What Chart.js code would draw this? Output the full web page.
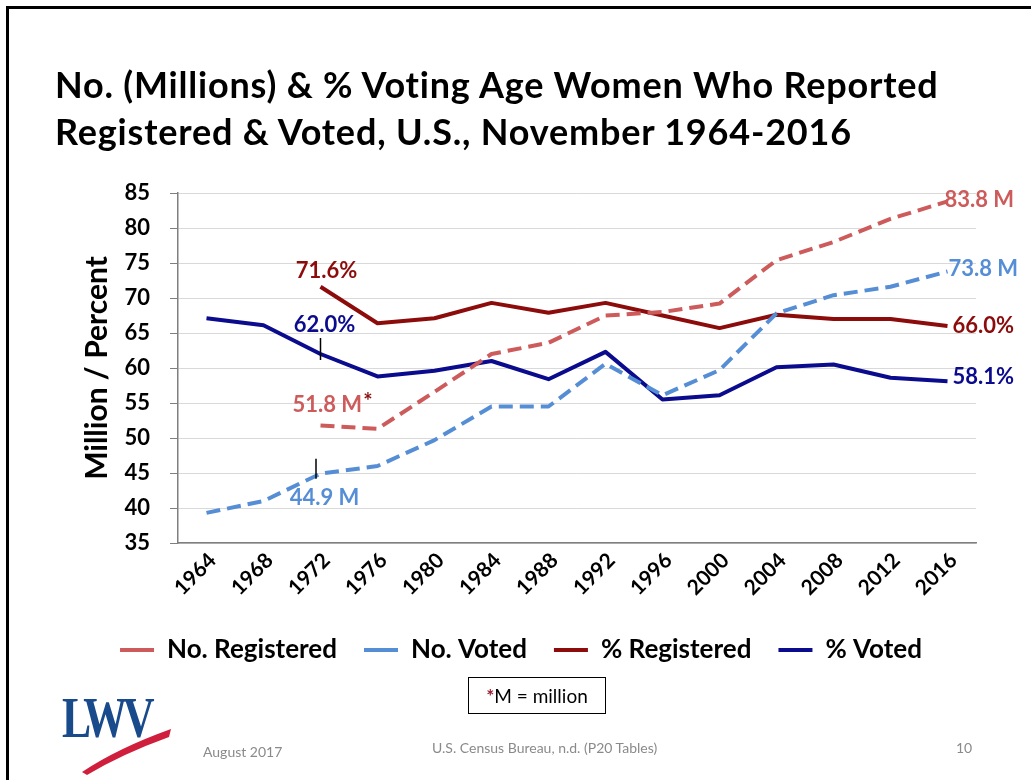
<!DOCTYPE html>
<html>
<head>
<meta charset="utf-8">
<title>Voting Age Women Registered &amp; Voted, 1964-2016</title>
<script src="https://cdn.jsdelivr.net/npm/chart.js@4.4.1/dist/chart.umd.min.js"></script>
<style>
  html, body { margin: 0; padding: 0; background: #fff; }
  body { width: 1031px; height: 780px; position: relative; overflow: hidden; font-family: Lato, "Liberation Sans", sans-serif; font-variant-ligatures: none; }
  .frame { position: absolute; left: 6px; top: 6px; width: 1100px; height: 900px; border: 3px solid #000; }
  #chart { position: absolute; left: 0; top: 0; }
  h1 { position: absolute; left: 55px; top: 61px; margin: 0; font-size: 36px; line-height: 46.5px; letter-spacing: 0.8px; font-weight: 700; color: #000; white-space: nowrap; }
  .note { position: absolute; left: 468px; top: 677px; width: 136px; height: 35px; border: 1.5px solid #000; font-size: 19px; line-height: 35px; text-align: center; color: #000; }
  .note span { color: #9b1b2e; font-weight: 700; }
  .foot { position: absolute; color: #8a8a8a; font-size: 14px; line-height: 16px; white-space: nowrap; }
  .logo { position: absolute; left: 62px; top: 690px; font-family: "Liberation Serif", serif; font-weight: 700; font-size: 56px; line-height: 56px; color: #184a8c; letter-spacing: -5px; transform: scaleX(0.78); transform-origin: left top; }
  .swoosh { position: absolute; left: 0; top: 0; }
</style>
</head>
<body>
<div class="frame"></div>
<canvas id="chart" width="1031" height="780"></canvas>
<h1>No. (Millions) &amp; % Voting Age Women Who Reported<br>Registered &amp; Voted, U.S., November 1964-2016</h1>
<div class="note"><span>*</span>M = million</div>
<div class="logo">LWV</div>
<svg class="swoosh" width="200" height="780" viewBox="0 0 200 780">
  <path d="M82 772 Q118 748 171 729 L169 737 Q122 754 87 775 Z" fill="#cf1f3c"/>
</svg>
<div class="foot" style="left:203px; top:744px;">August 2017</div>
<div class="foot" style="left:432px; top:740px;">U.S. Census Bureau, n.d. (P20 Tables)</div>
<div class="foot" style="left:956px; top:740px;">10</div>

<script>
// election years and series (millions of women / percent of voting age women)
const years = ['1964', '1968', '1972', '1976', '1980', '1984', '1988', '1992', '1996', '2000', '2004', '2008', '2012', '2016'];
const noRegistered = [null, null, 51.8, 51.3, 56.6, 62.0, 63.6, 67.5, 68.0, 69.2, 75.4, 78.0, 81.3, 83.8];
const noVoted = [39.3, 41.0, 44.9, 46.0, 49.7, 54.5, 54.5, 60.6, 56.1, 59.7, 67.8, 70.4, 71.6, 73.8];
const pctRegistered = [null, null, 71.6, 66.4, 67.1, 69.3, 67.9, 69.3, 67.5, 65.7, 67.6, 67.0, 67.0, 66.0];
const pctVoted = [67.1, 66.1, 62.0, 58.8, 59.6, 61.0, 58.4, 62.3, 55.5, 56.1, 60.1, 60.5, 58.6, 58.1];
const yTicks = [35, 40, 45, 50, 55, 60, 65, 70, 75, 80, 85];

const LIGHT_RED = '#cd5b5b';
const LIGHT_BLUE = '#568ed6';
const DARK_RED = '#8c0c0c';
const NAVY = '#0b0b8e';
const FONT = 'Lato, "Liberation Sans", sans-serif';

// callouts at the first and last election of each series
const callouts = [
  { ds: 2, i: 2, unit: '%', color: DARK_RED, dx: 6, dy: -16, align: 'center' },
  { ds: 3, i: 2, unit: '%', color: NAVY, dx: 4, dy: -29, align: 'center' },
  { ds: 0, i: 2, unit: ' M', star: true, color: LIGHT_RED, dx: -28, dy: -20, align: 'left' },
  { ds: 1, i: 2, unit: ' M', color: LIGHT_BLUE, dx: 4, dy: 24, align: 'center' },
  { ds: 0, i: 13, unit: ' M', color: LIGHT_RED, dx: -3, dy: -1, align: 'left' },
  { ds: 1, i: 13, unit: ' M', color: LIGHT_BLUE, dx: 1, dy: -2, align: 'left' },
  { ds: 2, i: 13, unit: '%', color: DARK_RED, dx: 5, dy: 0, align: 'left' },
  { ds: 3, i: 13, unit: '%', color: NAVY, dx: 5, dy: -4, align: 'left' }
];
// short leader ticks next to the 1972 callouts
const leaders = [
  { ds: 3, i: 2, dx: 0, from: -16, to: 6 },
  { ds: 1, i: 2, dx: -4.5, from: -15, to: 5 }
];

const calloutPlugin = {
  id: 'callouts',
  afterDatasetsDraw(chart) {
    const { ctx, scales: { x, y } } = chart;
    ctx.save();
    ctx.strokeStyle = '#000';
    ctx.lineWidth = 1.5;
    leaders.forEach(l => {
      const v = chart.data.datasets[l.ds].data[l.i];
      const px = x.getPixelForValue(l.i) + l.dx, py = y.getPixelForValue(v);
      ctx.beginPath();
      ctx.moveTo(px, py + l.from);
      ctx.lineTo(px, py + l.to);
      ctx.stroke();
    });
    ctx.font = `bold 22px ${FONT}`;
    ctx.textBaseline = 'middle';
    callouts.forEach(c => {
      const v = chart.data.datasets[c.ds].data[c.i];
      const px = x.getPixelForValue(c.i) + c.dx, py = y.getPixelForValue(v) + c.dy;
      const txt = v.toFixed(1) + c.unit;
      ctx.textAlign = c.align;
      ctx.fillStyle = c.color;
      ctx.fillText(txt, px, py);
      if (c.star) {
        const w = ctx.measureText(txt).width;
        ctx.textAlign = 'left';
        ctx.fillStyle = DARK_RED;
        ctx.fillText('*', px + w + 1, py - 3);
      }
    });
    ctx.restore();
  }
};

function line(label, data, color, dashed) {
  return {
    label, data,
    borderColor: color, backgroundColor: color,
    borderWidth: 4,
    borderDash: dashed ? [14, 7] : [],
    borderCapStyle: 'butt',
    borderJoinStyle: 'round',
    pointRadius: 0, pointHoverRadius: 0,
    pointStyle: 'line',
    spanGaps: false,
    tension: 0
  };
}

new Chart(document.getElementById('chart'), {
  type: 'line',
  data: {
    labels: years,
    datasets: [
      line('No. Registered', noRegistered, LIGHT_RED, true),
      line('No. Voted', noVoted, LIGHT_BLUE, true),
      line('% Registered', pctRegistered, DARK_RED, false),
      line('% Voted', pctVoted, NAVY, false)
    ]
  },
  options: {
    responsive: false,
    animation: false,
    layout: { padding: { left: 66, top: 193, right: 55, bottom: 107 } },
    plugins: {
      tooltip: { enabled: false },
      legend: {
        position: 'bottom',
        labels: {
          usePointStyle: true,
          pointStyle: 'line',
          pointStyleWidth: 34,
          padding: 27,
          color: '#000',
          font: { family: FONT, size: 26, weight: 'bold' }
        }
      }
    },
    scales: {
      x: {
        offset: true,
        grid: { display: true, drawOnChartArea: false, drawTicks: false },
        border: { color: '#7f7f7f', width: 1.5 },
        ticks: {
          color: '#000',
          font: { family: FONT, size: 21, weight: 'bold' },
          minRotation: 45, maxRotation: 45,
          padding: 5, labelOffset: 6,
          autoSkip: false
        },
        afterFit(scale) { scale.height = 67; }
      },
      y: {
        min: 35, max: 85,
        afterBuildTicks(scale) { scale.ticks = yTicks.map(v => ({ value: v })); },
        grid: { color: '#d9d9d9', tickColor: '#7f7f7f', tickLength: 8, lineWidth: 1 },
        border: { color: '#7f7f7f', width: 1.5 },
        ticks: {
          color: '#000',
          padding: 20,
          font: { family: FONT, size: 22, weight: 'bold' }
        },
        title: {
          display: true,
          text: 'Million / Percent',
          color: '#000',
          padding: { top: 13, bottom: 0 },
          font: { family: FONT, size: 30, weight: 'bold' }
        },
        afterFit(scale) { scale.width = 112; }
      }
    }
  },
  plugins: [calloutPlugin]
});
</script>
</body>
</html>
